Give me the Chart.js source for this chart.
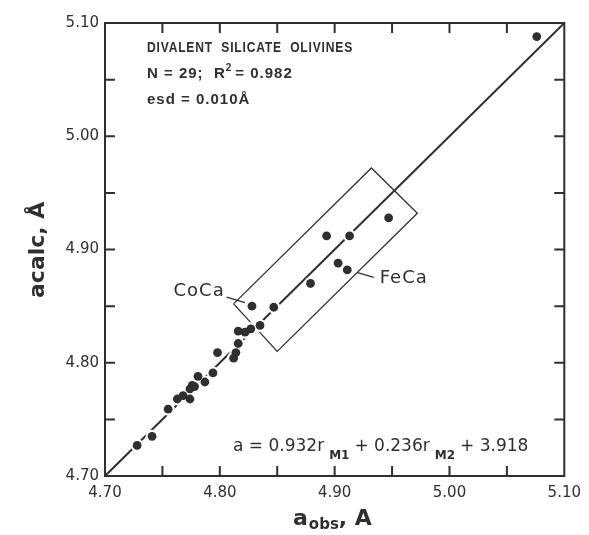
<!DOCTYPE html>
<html>
<head>
<meta charset="utf-8">
<script src="https://cdn.jsdelivr.net/npm/chart.js@4.4.0/dist/chart.umd.min.js"></script>
<style>
	html, body { margin: 0; padding: 0; background: #fff; }
	#wrap { width: 589px; height: 535px; }
</style>
</head>
<body>
<div id="wrap"><canvas id="myChart" width="589" height="535"></canvas></div>
<script>
// observed vs calculated a cell edge (Å), 29 olivines
var obsA  = [4.728, 4.741, 4.755, 4.763, 4.768, 4.774, 4.774, 4.776, 4.778, 4.781,
             4.787, 4.794, 4.798, 4.812, 4.814, 4.816, 4.816, 4.822, 4.827, 4.835,
             4.828, 4.847, 4.879, 4.893, 4.903, 4.911, 4.913, 4.947, 5.076];
var calcA = [4.727, 4.735, 4.759, 4.768, 4.771, 4.768, 4.777, 4.780, 4.779, 4.788,
             4.783, 4.791, 4.809, 4.804, 4.809, 4.817, 4.828, 4.827, 4.830, 4.833,
             4.850, 4.849, 4.870, 4.912, 4.888, 4.882, 4.912, 4.928, 5.088];

// 1:1 line
var fitObs  = [4.70, 5.10];
var fitCalc = [4.70, 5.10];

// box round the Ca-bearing olivines
var boxObs  = [4.812, 4.932, 4.972, 4.850, 4.812];
var boxCalc = [4.852, 4.972, 4.932, 4.810, 4.852];

// leaders for the two named points
var cocaObs  = [4.806, 4.822];
var cocaCalc = [4.858, 4.853];
var fecaObs  = [4.920, 4.934];
var fecaCalc = [4.8795, 4.8754];

var tickVals  = [4.70, 4.80, 4.90, 5.00, 5.10];
var minorVals = [4.75, 4.80, 4.85, 4.90, 4.95, 5.00, 5.05];

var INK = '#2f2f2f';

function toXY(xs, ys) {
	var out = new Array();
	xs.forEach(function(v, i) {
		out.push({ x: v, y: ys[i] });
	});
	return out;
}

function lineSet(xs, ys, w, ord) {
	return {
		data: toXY(xs, ys),
		showLine: true,
		borderColor: INK,
		borderWidth: w,
		pointRadius: 0,
		tension: 0,
		fill: false,
		order: ord
	};
}

// inward ticks on all four sides + frame
var frameTicks = {
	id: 'frameTicks',
	beforeDatasetsDraw: function(chart) {
		var ctx = chart.ctx, a = chart.chartArea;
		var sx = chart.scales.x, sy = chart.scales.y;
		ctx.save();
		ctx.strokeStyle = INK;
		ctx.lineWidth = 2;
		ctx.strokeRect(a.left, a.top, a.right - a.left, a.bottom - a.top);
		var len = 10;
		ctx.beginPath();
		minorVals.forEach(function(v) {
			var px = sx.getPixelForValue(v);
			ctx.moveTo(px, a.bottom); ctx.lineTo(px, a.bottom - len);
			ctx.moveTo(px, a.top); ctx.lineTo(px, a.top + len);
			var py = sy.getPixelForValue(v);
			ctx.moveTo(a.left, py); ctx.lineTo(a.left + len, py);
			ctx.moveTo(a.right, py); ctx.lineTo(a.right - len, py);
		});
		ctx.stroke();
		ctx.restore();
	}
};

function drawRun(ctx, parts, x, y) {
	// parts: [text, font, dy, gapAfter]
	parts.forEach(function(p) {
		ctx.font = p[1];
		ctx.fillText(p[0], x, y + (p[2] || 0));
		x += ctx.measureText(p[0]).width + (p[3] || 0);
	});
	return x;
}

var texts = {
	id: 'texts',
	afterDraw: function(chart) {
		var ctx = chart.ctx;
		var sx = chart.scales.x, sy = chart.scales.y;
		ctx.save();
		ctx.fillStyle = INK;
		ctx.textBaseline = 'middle';
		ctx.textAlign = 'left';

		// header block
		var hf = 'bold 15px "Liberation Sans"';
		ctx.letterSpacing = '1px';
		ctx.font = hf;
		ctx.fillText('DIVALENT  SILICATE  OLIVINES', 147, 48, 206);
		drawRun(ctx, [
			['N = 29;  R', hf, 0, 0],
			['2', 'bold 10px "Liberation Sans"', -6, 3],
			['= 0.982', hf, 0]
		], 147, 74);
		ctx.font = hf;
		ctx.fillText('esd = 0.010Å', 147, 100);
		ctx.letterSpacing = '0px';

		// regression equation
		var f = '17px "DejaVu Sans"', fs = 'bold 12px "DejaVu Sans"';
		drawRun(ctx, [
			['a = 0.932r', f, 0, 5],
			['M1', fs, 9, 5],
			['+ 0.236r', f, 0, 5],
			['M2', fs, 9, 5],
			['+ 3.918', f, 0]
		], 233, 447);

		// point labels
		ctx.letterSpacing = '1px';
		ctx.font = '18px "DejaVu Sans"';
		ctx.textAlign = 'right';
		ctx.fillText('CoCa', sx.getPixelForValue(cocaObs[0]) - 2, sy.getPixelForValue(cocaCalc[0]) - 6);
		ctx.textAlign = 'left';
		ctx.fillText('FeCa', sx.getPixelForValue(fecaObs[1]) + 6, sy.getPixelForValue(fecaCalc[1]) + 1);
		ctx.letterSpacing = '0px';

		// x title
		drawRun(ctx, [
			['a', 'bold 22px "DejaVu Sans"', 0, 1],
			['obs', 'bold 15px "DejaVu Sans"', 6, 0],
			[', A', 'bold 22px "DejaVu Sans"', 0]
		], 293, 519);

		// y title
		ctx.translate(38, 298);
		ctx.rotate(-Math.PI / 2);
		drawRun(ctx, [
			['acalc, Å', 'bold 22px "DejaVu Sans"', 0]
		], 0, 0);
		ctx.restore();
	}
};

var _config = {
	type: 'scatter',
	data: {
		datasets: [
			lineSet(fitObs, fitCalc, 2, 4),
			lineSet(boxObs, boxCalc, 1.3, 3),
			lineSet(cocaObs, cocaCalc, 1.3, 3),
			lineSet(fecaObs, fecaCalc, 1.3, 3),
			{
				data: toXY(obsA, calcA),
				pointRadius: 6.5,
				pointBackgroundColor: '#ffffff',
				pointBorderWidth: 0,
				order: 1
			},
			{
				data: toXY(obsA, calcA),
				pointRadius: 4.4,
				pointBackgroundColor: INK,
				pointBorderWidth: 0,
				order: 0
			}
		]
	},
	options: {
		responsive: false,
		animation: false,
		devicePixelRatio: 1,
		layout: {
			padding: { top: 23, right: 20, left: 0, bottom: 0 }
		},
		plugins: {
			legend: { display: false },
			tooltip: { enabled: false }
		},
		scales: {
			x: {
				type: 'linear',
				min: 4.70,
				max: 5.10,
				afterFit: function(s) { s.height = 59; },
				afterBuildTicks: function(s) {
					s.ticks = tickVals.map(function(v) { return { value: v }; });
				},
				grid: { display: false, drawTicks: false },
				border: { display: false },
				ticks: {
					padding: 8,
					color: INK,
					font: { family: 'DejaVu Sans', size: 15 },
					maxRotation: 0,
					callback: function(v) { return Number(v).toFixed(2); }
				}
			},
			y: {
				type: 'linear',
				min: 4.70,
				max: 5.10,
				afterFit: function(s) { s.width = 105; },
				afterBuildTicks: function(s) {
					s.ticks = tickVals.map(function(v) { return { value: v }; });
				},
				grid: { display: false, drawTicks: false },
				border: { display: false },
				ticks: {
					padding: 6,
					color: INK,
					font: { family: 'DejaVu Sans', size: 15 },
					callback: function(v) { return Number(v).toFixed(2); }
				}
			}
		}
	},
	plugins: [frameTicks, texts]
};

var myChart = new Chart(document.getElementById('myChart'), _config);
</script>
</body>
</html>
